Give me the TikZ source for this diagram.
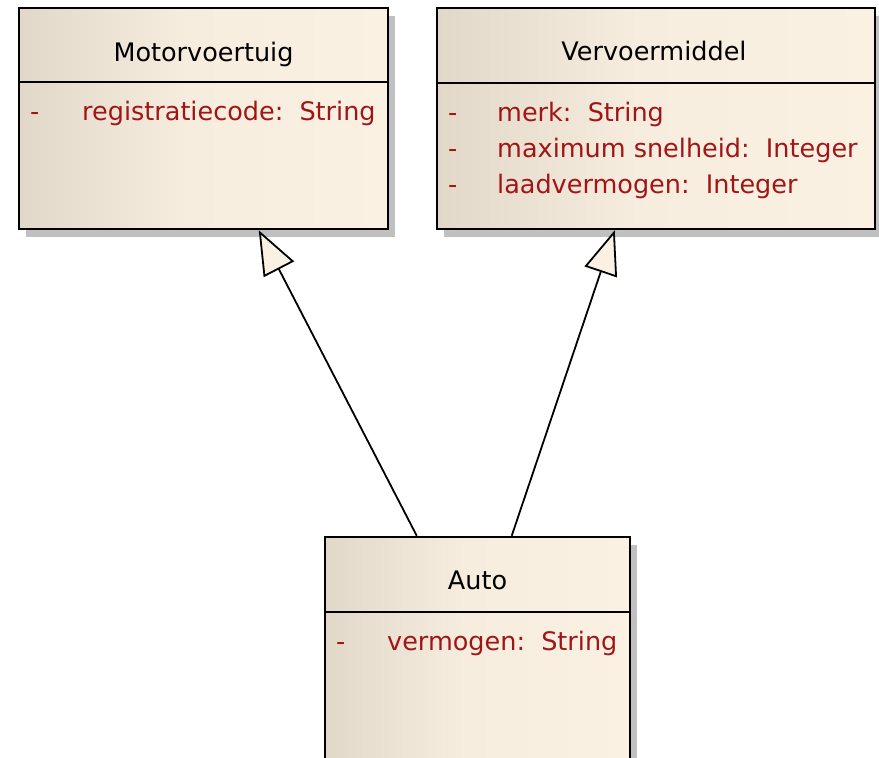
\documentclass[tikz,border=0pt]{standalone}
\usepackage{fontspec}
\setmainfont{DejaVu Sans}
\usetikzlibrary{arrows.meta,shadows}
\definecolor{boxL}{RGB}{226,216,202}
\definecolor{boxM}{RGB}{247,237,223}
\definecolor{boxR}{RGB}{251,241,227}
\definecolor{attr}{RGB}{160,22,22}
\definecolor{shadowgray}{RGB}{192,192,192}
% left-to-right fill: dark beige edge that lightens towards the middle
\pgfdeclarehorizontalshading{classfill}{100bp}{%
  color(0bp)=(boxL); color(25bp)=(boxL); color(48bp)=(boxM);
  color(75bp)=(boxR); color(100bp)=(boxR)}
\begin{document}
\begin{tikzpicture}[x=1pt,y=-1pt,
  classbox/.style={draw=black, line width=2.5pt, inner sep=0pt,
    shading=classfill,
    drop shadow={shadow xshift=7pt, shadow yshift=-8pt, fill=shadowgray, opacity=1}},
  sepline/.style={draw=black, line width=2.5pt},
  hdr/.style={anchor=base, inner sep=0pt, font=\fontsize{25.5}{30}\selectfont, text=black},
  att/.style={anchor=base west, inner sep=0pt, font=\fontsize{25.5}{30}\selectfont, text=attr},
  gen/.style={draw=black, line width=1.8pt,
    -{Triangle[length=44pt, width=34pt, fill=boxR, line width=1.8pt]}}
]
\clip (0,0) rectangle (879,758);

% class boxes
\node[classbox, minimum width=369pt, minimum height=221pt] (mv) at (203.5,118.5) {};
\node[classbox, minimum width=438pt, minimum height=221pt] (vm) at (656,118.5) {};
\node[classbox, minimum width=305pt, minimum height=260pt] (auto) at (477.5,667) {};

% compartment separators
\draw[sepline] ([yshift=-75pt]mv.north west) -- ([yshift=-75pt]mv.north east);
\draw[sepline] ([yshift=-76pt]vm.north west) -- ([yshift=-76pt]vm.north east);
\draw[sepline] ([yshift=-76pt]auto.north west) -- ([yshift=-76pt]auto.north east);

% Motorvoertuig
\node[hdr] (mvname) at (203.5,61) {Motorvoertuig};
\node[att] (mvd1) at (30,120) {-};
\node[att] (mva1) at (82,120) {registratiecode:\ \ String};

% Vervoermiddel
\node[hdr] (vmname) at (654,60) {Vervoermiddel};
\node[att] (vmd1) at (448,121) {-};
\node[att] (vma1) at (497,121) {merk:\ \ String};
\node[att] (vmd2) at (448,157) {-};
\node[att] (vma2) at (497,157) {maximum snelheid:\ \ Integer};
\node[att] (vmd3) at (448,193) {-};
\node[att] (vma3) at (497,193) {laadvermogen:\ \ Integer};

% Auto
\node[hdr] (autoname) at (477.5,589) {Auto};
\node[att] (autod1) at (336,650) {-};
\node[att] (autoa1) at (387,650) {vermogen:\ \ String};

% generalisations
\draw[gen] ([xshift=93pt]auto.north west) -- ([xshift=241pt]mv.south west);
\draw[gen] ([xshift=188pt]auto.north west) -- ([xshift=179pt]vm.south west);
\end{tikzpicture}
\end{document}
